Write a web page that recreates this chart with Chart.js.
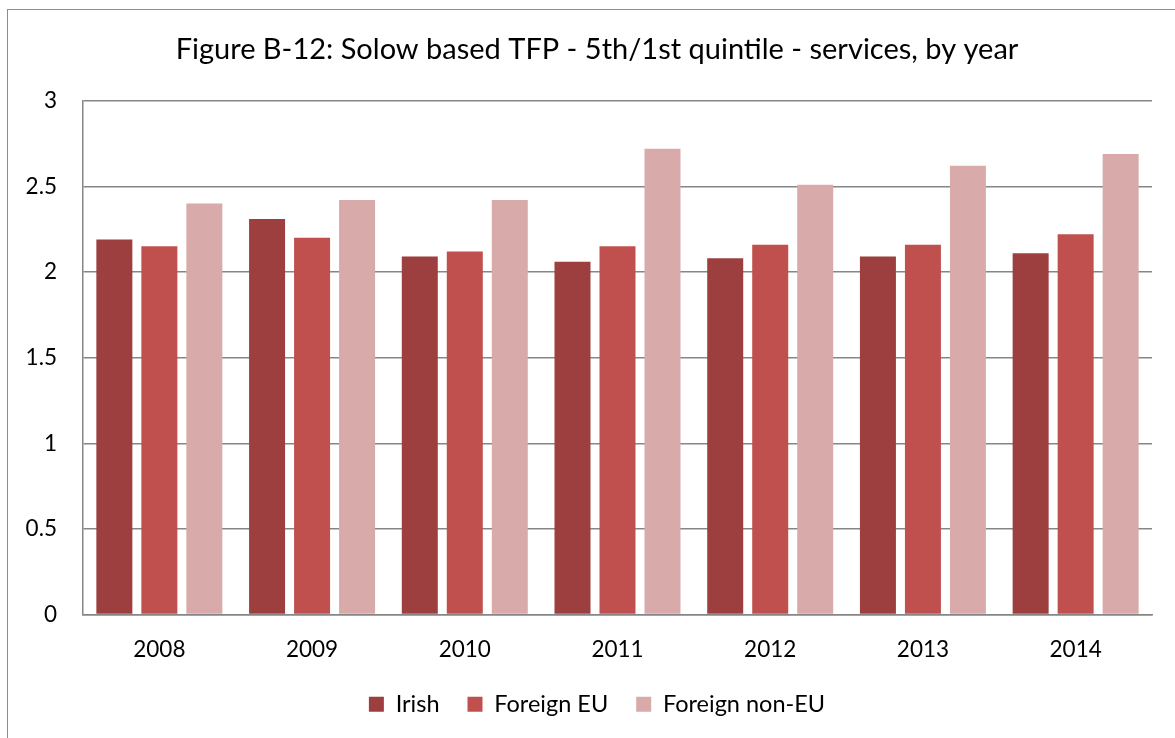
<!DOCTYPE html>
<html>
<head>
<meta charset="utf-8">
<script src="https://cdn.jsdelivr.net/npm/chart.js@4/dist/chart.umd.min.js"></script>
<style>
  html, body { margin: 0; padding: 0; background: #fff; overflow: hidden; }
  #wrap { position: relative; width: 1175px; height: 738px; }
  #frame { position: absolute; left: 7px; top: 9px; width: 1300px; height: 900px; border: 1.5px solid #8c8c8c; box-sizing: border-box; }
  canvas { position: absolute; left: 0; top: 0; }
</style>
</head>
<body>
<div id="wrap">
  <div id="frame"></div>
  <canvas id="tfpChart" width="1175" height="738"></canvas>
</div>
<script>
// data
var years = ['2008', '2009', '2010', '2011', '2012', '2013', '2014'];
var irish = [2.19, 2.31, 2.09, 2.06, 2.08, 2.09, 2.11];
var foreignEU = [2.15, 2.20, 2.12, 2.15, 2.16, 2.16, 2.22];
var foreignNonEU = [2.40, 2.42, 2.42, 2.72, 2.51, 2.62, 2.69];
var yTicks = [0, 0.5, 1, 1.5, 2, 2.5, 3];

var fontFamily = "Lato, 'Open Sans', sans-serif";
var gridColor = '#868686';

var tfpChart = new Chart(document.getElementById('tfpChart'), {
    type: 'bar',
    data: {
        labels: years,
        datasets: [
            { label: 'Irish', data: irish, backgroundColor: '#9E3F3F' },
            { label: 'Foreign EU', data: foreignEU, backgroundColor: '#C0504D' },
            { label: 'Foreign non-EU', data: foreignNonEU, backgroundColor: '#D9AAAA' }
        ]
    },
    options: {
        responsive: false,
        animation: false,
        devicePixelRatio: 1,
        categoryPercentage: 0.884,
        barPercentage: 0.8,
        // left pad shifts title/legend centre right, like the original frame
        layout: { padding: { left: 19, right: 0, top: 0, bottom: 12 } },
        plugins: {
            title: {
                display: true,
                text: 'Figure B-12: Solow based TFP - 5th/1st quintile - services, by year',
                color: '#000',
                font: { family: fontFamily, size: 29, weight: 'normal' },
                padding: { top: 32, bottom: 34 }
            },
            legend: {
                position: 'bottom',
                labels: {
                    color: '#000',
                    font: { family: fontFamily, size: 23.5 },
                    boxWidth: 15,
                    boxHeight: 15,
                    padding: 28
                }
            },
            tooltip: { enabled: false }
        },
        scales: {
            x: {
                // the label block needs about 50px below the axis
                afterFit: function (scale) { scale.height = 50; },
                grid: { display: false, drawTicks: false },
                border: { display: true, color: gridColor, width: 1.5 },
                ticks: { color: '#000', font: { family: fontFamily, size: 22.5 }, padding: 22 }
            },
            y: {
                min: 0,
                max: 3,
                afterFit: function (scale) { scale.width = 64; },
                afterBuildTicks: function (scale) {
                    scale.ticks = yTicks.map(function (v) { return { value: v }; });
                },
                grid: { color: gridColor, lineWidth: 1.5, drawTicks: false },
                border: { display: true, color: gridColor, width: 1.5 },
                ticks: {
                    color: '#000',
                    font: { family: fontFamily, size: 22.5 },
                    padding: 26,
                    callback: function (v) { return String(v); }
                }
            },
            // empty spacer on the right so the plot ends where the original does
            spacer: {
                position: 'right',
                afterFit: function (scale) { scale.width = 23; },
                grid: { display: false, drawTicks: false },
                border: { display: false },
                ticks: { display: false }
            }
        }
    }
});
</script>
</body>
</html>
